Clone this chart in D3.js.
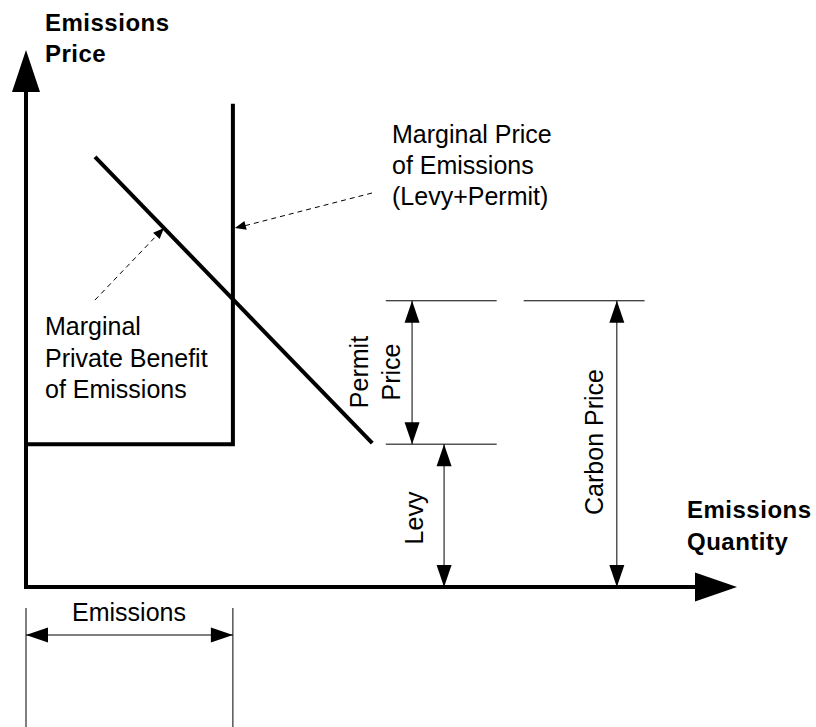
<!DOCTYPE html>
<html>
<head>
<meta charset="utf-8">
<script src="https://cdn.jsdelivr.net/npm/d3@7"></script>
<style>
  html, body { margin: 0; padding: 0; background: #fff; }
  svg { display: block; font-family: "Liberation Sans", Arial, sans-serif; }
</style>
</head>
<body>
<div id="chart"></div>
<script>
// diagram values (quantity 0..100, price 0..100)
const axisMax = [100, 100];
const emissionsCap = 29.1;           // quantity allowed by permits
const capTop = 90;                   // top of the cap line
const levy = 26.6;                   // price floor from the levy
const carbonPrice = 53.3;            // levy + permit price
const mpbLine = [[9.7, 80.1], [48.7, 26.8]];
const dimLeftX = [50.6, 66.2];       // extension lines for permit / levy
const dimRightX = [70, 87];          // extension line for carbon price
const permitArrowX = 54.3;
const levyArrowX = 58.8;
const carbonArrowX = 83.1;

const width = 816, height = 727;

const x = d3.scaleLinear().domain([0, axisMax[0]]).range([26, 737]);
const y = d3.scaleLinear().domain([0, axisMax[1]]).range([587, 50]);

const svg = d3.select("#chart").append("svg")
  .attr("width", width)
  .attr("height", height);

// filled arrowhead at (tx,ty) pointing away from (fx,fy)
function arrowHead(g, fx, fy, tx, ty, len, half) {
  const a = Math.atan2(ty - fy, tx - fx);
  const bx = tx - len * Math.cos(a), by = ty - len * Math.sin(a);
  const nx = -Math.sin(a) * half, ny = Math.cos(a) * half;
  g.append("path")
    .attr("d", `M${tx},${ty}L${bx + nx},${by + ny}L${bx - nx},${by - ny}Z`)
    .attr("fill", "#000");
}

function line(g, x1, y1, x2, y2, w, dash) {
  g.append("line")
    .attr("x1", x1).attr("y1", y1).attr("x2", x2).attr("y2", y2)
    .attr("stroke", "#000")
    .attr("stroke-width", w)
    .attr("stroke-dasharray", dash || null);
}

function doubleArrow(g, x1, y1, x2, y2) {
  line(g, x1, y1, x2, y2, 1);
  arrowHead(g, x1, y1, x2, y2, 22, 7.5);
  arrowHead(g, x2, y2, x1, y1, 22, 7.5);
}

const axes = svg.append("g");
// y axis
line(axes, x(0), y(0), x(0), y(92.2), 4);
arrowHead(axes, x(0), y(0), x(0), y(axisMax[1]), 42, 14);
// x axis
line(axes, x(0) - 2, y(0), x(94.5), y(0), 4);
arrowHead(axes, x(0), y(0), x(axisMax[0]), y(0), 42, 14.5);

// permit box: cap line and levy floor
const curves = svg.append("g");
curves.append("path")
  .attr("d", d3.line()([[x(0), y(levy)], [x(emissionsCap), y(levy)], [x(emissionsCap), y(capTop)]].map(d => d)))
  .attr("fill", "none")
  .attr("stroke", "#000")
  .attr("stroke-width", 4)
  .attr("stroke-linejoin", "miter");

curves.append("path")
  .attr("d", d3.line().x(d => x(d[0])).y(d => y(d[1]))(mpbLine))
  .attr("fill", "none")
  .attr("stroke", "#000")
  .attr("stroke-width", 4);

// dashed pointers
const pointers = svg.append("g");
line(pointers, 95, 300, 160, 232, 1, "5,4");
arrowHead(pointers, 95, 300, 164, 228, 11, 4.5);
line(pointers, 372, 193, 240, 227, 1, "5,4");
arrowHead(pointers, 372, 193, x(emissionsCap) + 2, 228, 11, 4.5);

// dimension lines
const dims = svg.append("g");
line(dims, x(dimLeftX[0]), y(carbonPrice), x(dimLeftX[1]), y(carbonPrice), 1);
line(dims, x(dimRightX[0]), y(carbonPrice), x(dimRightX[1]), y(carbonPrice), 1);
line(dims, x(dimLeftX[0]), y(levy), x(dimLeftX[1]), y(levy), 1);
doubleArrow(dims, x(permitArrowX), y(carbonPrice), x(permitArrowX), y(levy));
doubleArrow(dims, x(levyArrowX), y(levy), x(levyArrowX), y(0));
doubleArrow(dims, x(carbonArrowX), y(carbonPrice), x(carbonArrowX), y(0));

// emissions width below the axis
line(dims, x(0), 608, x(0), height, 1);
line(dims, x(emissionsCap), 608, x(emissionsCap), height, 1);
doubleArrow(dims, x(0), 635, x(emissionsCap), 635);

// text
const txt = svg.append("g").attr("fill", "#000");
function lines(g, tx, ty, arr, opts) {
  const t = g.append("text")
    .attr("x", tx).attr("y", ty)
    .attr("font-size", opts.size)
    .attr("font-weight", opts.bold ? "bold" : null)
    .attr("letter-spacing", opts.ls || null)
    .attr("text-anchor", opts.anchor || "start")
    .attr("transform", opts.rotate ? `rotate(-90,${tx},${ty})` : null);
  arr.forEach((s, i) => {
    t.append("tspan").attr("x", tx).attr("dy", i === 0 ? 0 : opts.lh).text(s);
  });
}

lines(txt, 45, 31, ["Emissions", "Price"], { size: 24, bold: true, lh: 31, ls: 0.5 });
lines(txt, 687, 518, ["Emissions", "Quantity"], { size: 24, bold: true, lh: 32, ls: 0.5 });
lines(txt, 392, 143, ["Marginal Price", "of Emissions", "(Levy+Permit)"], { size: 25, lh: 31 });
lines(txt, 45, 335, ["Marginal", "Private Benefit", "of Emissions"], { size: 25, lh: 31.5 });
lines(txt, 129, 621, ["Emissions"], { size: 25, anchor: "middle" });

function vlabel(tx, ty, s) {
  txt.append("text")
    .attr("x", tx).attr("y", ty)
    .attr("font-size", 25)
    .attr("text-anchor", "middle")
    .attr("transform", `rotate(-90,${tx},${ty})`)
    .text(s);
}
vlabel(368, 372, "Permit");
vlabel(400, 372, "Price");
vlabel(423, 518, "Levy");
vlabel(603, 442, "Carbon Price");
</script>
</body>
</html>
